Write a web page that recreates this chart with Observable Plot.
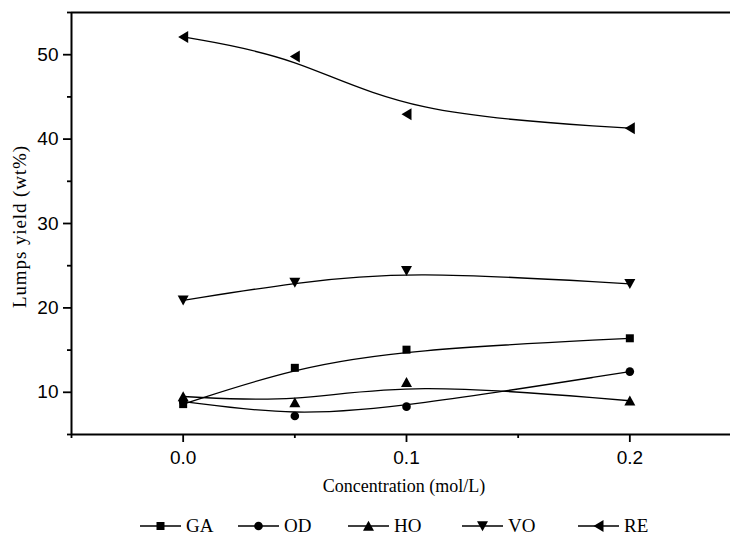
<!DOCTYPE html>
<html>
<head>
<meta charset="utf-8">
<script src="https://cdn.jsdelivr.net/npm/d3@7"></script>
<script src="https://cdn.jsdelivr.net/npm/@observablehq/plot@0.6"></script>
<style>
  html, body { margin: 0; padding: 0; background: #fff; }
  #wrap { width: 730px; height: 539px; overflow: hidden; background: #fff; }
  #legend { position: relative; width: 730px; height: 34px; font-family: "Liberation Serif", "Times New Roman", serif; font-size: 19px; color: #000; }
  .item { position: absolute; top: 12px; height: 18px; display: flex; align-items: center; white-space: nowrap; }
  .item svg { display: block; margin-right: 5px; }
</style>
</head>
<body>
<div id="wrap">
  <div id="chart"></div>
  <div id="legend"></div>
</div>
<script>
// ---- data ----
const conc = [0, 0.05, 0.1, 0.2];
const seriesNames = ["GA", "OD", "HO", "VO", "RE"];
const GA = [8.6, 12.9, 15.05, 16.4];
const OD = [8.9, 7.2, 8.3, 12.45];
const HO = [9.5, 8.8, 11.2, 9.0];
const VO = [20.9, 23.0, 24.4, 22.85];
const RE = [52.1, 49.8, 42.95, 41.3];
const xTicks = [0, 0.1, 0.2];
const xMinorTicks = [-0.05, 0.05, 0.15];
const yTicks = [10, 20, 30, 40, 50];
const yMinorTicks = [5, 15, 25, 35, 45, 55];
const xLabel = "Concentration (mol/L)";
const yLabel = "Lumps yield (wt%)";

const seriesValues = {GA, OD, HO, VO, RE};
const data = seriesNames.flatMap(name =>
  seriesValues[name].map((v, j) => ({series: name, x: conc[j], y: v}))
);

// ---- custom symbols ----
const rOf = size => Math.sqrt(size / Math.PI);
const symbols = {
  GA: {draw(c, size) { const r = rOf(size) * 0.8; c.rect(-r, -r, 2 * r, 2 * r); }},
  OD: {draw(c, size) { const r = rOf(size) * 0.86; c.moveTo(r, 0); c.arc(0, 0, r, 0, 2 * Math.PI); }},
  HO: {draw(c, size) { const r = rOf(size); c.moveTo(0, -1.05 * r); c.lineTo(1.1 * r, 0.95 * r); c.lineTo(-1.1 * r, 0.95 * r); c.closePath(); }},
  VO: {draw(c, size) { const r = rOf(size); c.moveTo(0, 1.05 * r); c.lineTo(1.1 * r, -0.95 * r); c.lineTo(-1.1 * r, -0.95 * r); c.closePath(); }},
  RE: {draw(c, size) { const r = rOf(size); c.moveTo(-1.0 * r, 0); c.lineTo(1.0 * r, -1.2 * r); c.lineTo(1.0 * r, 1.2 * r); c.closePath(); }}
};

const sans = "Liberation Sans, Arial, sans-serif";
const serif = "Liberation Serif, Times New Roman, serif";

const chart = Plot.plot({
  width: 730,
  height: 505,
  marginLeft: 71,
  marginRight: 0,
  marginTop: 12,
  marginBottom: 71,
  style: {background: "white", color: "black"},
  x: {domain: [-0.05, 0.25], range: [71, 741]},
  y: {domain: [5, 55], range: [434, 12]},
  marks: [
    Plot.axisY(yTicks, {tickSize: 8, tickPadding: 5, strokeWidth: 1.8, fontSize: 19, fontFamily: sans, label: null, tickFormat: d => String(d)}),
    Plot.axisY(yMinorTicks, {tickSize: 4, strokeWidth: 1.8, label: null, tickFormat: () => ""}),
    Plot.axisX(xTicks, {tickSize: 8, tickPadding: 8, strokeWidth: 1.8, fontSize: 19, fontFamily: sans, label: null, tickFormat: d3.format(".1f")}),
    Plot.axisX(xMinorTicks, {tickSize: 4, strokeWidth: 1.8, label: null, tickFormat: () => ""}),
    Plot.ruleX([-0.05], {strokeWidth: 2}),
    Plot.ruleY([5, 55], {strokeWidth: 2}),
    ...seriesNames.map(name => Plot.line(data.filter(d => d.series === name), {x: "x", y: "y", curve: "basis", stroke: "black", strokeWidth: 1.3})),
    ...seriesNames.map(name => Plot.dot(data.filter(d => d.series === name), {x: "x", y: "y", r: 5, symbol: symbols[name], fill: "black", stroke: "none"})),
    Plot.text([xLabel], {frameAnchor: "bottom", dy: 57, dx: 3, fontSize: 18, fontFamily: serif, fill: "black"}),
    Plot.text([yLabel], {frameAnchor: "left", textAnchor: "middle", lineAnchor: "middle", dx: -52, dy: 3, rotate: -90, fontSize: 19, fontFamily: serif, fill: "black"})
  ]
});
chart.querySelectorAll("text").forEach(t => {
  if (t.textContent === yLabel) t.setAttribute("letter-spacing", "0.9");
});
document.getElementById("chart").appendChild(chart);

// ---- legend ----
const legendLeft = [140, 238, 348, 462, 578];
const legend = d3.select("#legend");
seriesNames.forEach((name, i) => {
  const item = legend.append("div").attr("class", "item").style("left", legendLeft[i] + "px");
  const svg = item.append("svg").attr("width", 41).attr("height", 18);
  svg.append("line").attr("x1", 0).attr("x2", 41).attr("y1", 9).attr("y2", 9).attr("stroke", "black").attr("stroke-width", 1.3);
  svg.append("path").attr("transform", "translate(20.5,9)").attr("d", d3.symbol(symbols[name], 25 * Math.PI)()).attr("fill", "black");
  item.append("span").text(name);
});
</script>
</body>
</html>
